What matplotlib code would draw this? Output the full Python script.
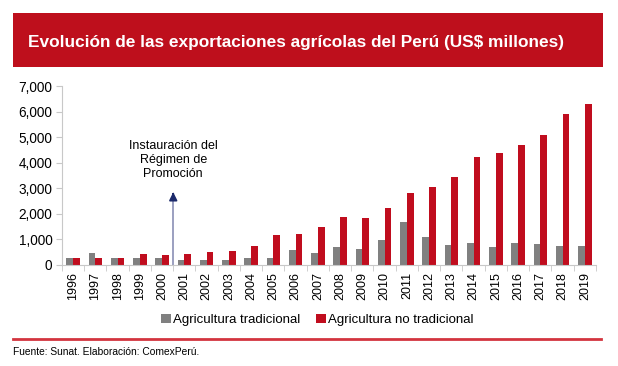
import matplotlib.pyplot as plt
import numpy as np
from matplotlib.patches import Rectangle
from matplotlib.lines import Line2D

plt.rcParams['font.family'] = ['Liberation Sans', 'DejaVu Sans']

years = [str(y) for y in range(1996, 2020)]
tradicional = [250, 470, 250, 250, 250, 185, 185, 185, 250, 250, 560, 450,
               680, 615, 955, 1660, 1085, 770, 835, 680, 835, 800, 745, 745]
no_tradicional = [250, 250, 250, 420, 370, 420, 495, 535, 745, 1150, 1200, 1490,
                  1880, 1815, 2210, 2810, 3055, 3420, 4220, 4375, 4675, 5080, 5890, 6295]

title = 'Evolución de las exportaciones agrícolas del Perú (US$ millones)'
fuente = 'Fuente: Sunat. Elaboración: ComexPerú.'
nota = 'Instauración del\nRégimen de\nPromoción'

grey = '#808080'
red = '#c00d1e'

fig = plt.figure(figsize=(6.18, 3.66), dpi=100)
ax = fig.add_axes([0.1003, 0.2768, 0.8641, 0.4882])

x = np.arange(len(years))
w = 0.3
ax.bar(x - w / 2, tradicional, w, color=grey, label='Agricultura tradicional')
ax.bar(x + w / 2, no_tradicional, w, color=red, label='Agricultura no tradicional')

ax.set_xlim(-0.5, len(years) - 0.5)
ax.set_ylim(0, 7000)
ax.set_yticks(range(0, 7001, 1000))
ax.set_yticklabels([f'{v:,}' for v in range(0, 7001, 1000)], fontsize=9.8)
ax.set_xticks(x)
ax.set_xticklabels(years, rotation=90, fontsize=9)
ax.tick_params(axis='x', length=0, pad=5)
ax.set_xticks(np.arange(-0.5, len(years)), minor=True)
ax.tick_params(axis='x', which='minor', length=4, color='#c8c8c8')
ax.tick_params(axis='y', length=4, color='#c8c8c8', pad=3)
for s in ['top', 'right']:
    ax.spines[s].set_visible(False)
for s in ['left', 'bottom']:
    ax.spines[s].set_color('#c8c8c8')

# flecha del régimen de promoción
ax.plot([4.5, 4.5], [0, 2700], color='#8a8fb5', lw=1.2)
ax.annotate('', xy=(4.5, 2950), xytext=(4.5, 2650),
            arrowprops=dict(arrowstyle='-|>', color='#1c2a6b', lw=1.2, mutation_scale=12))
ax.text(4.5, 3330, nota, ha='center', va='bottom', fontsize=9, linespacing=1.2)

leg = fig.legend(loc='center', bbox_to_anchor=(0.514, 0.126), ncol=2, frameon=False,
                 fontsize=9.5, handlelength=0.7, handleheight=0.7, handletextpad=0.2,
                 columnspacing=1.2)

# barra del título
fig.patches.append(Rectangle((0.021, 0.817), 0.9547, 0.1475, transform=fig.transFigure,
                             facecolor='#be0f1c', edgecolor='none'))
fig.text(0.046, 0.885, title, color='white', fontsize=12.4, fontweight='bold', va='center')

fig.lines.append(Line2D([0.021, 0.9725], [0.0738, 0.0738], transform=fig.transFigure,
                        color='#d3343f', lw=2))
fig.text(0.021, 0.038, fuente, fontsize=7.4, va='center')

fig.savefig('out.png', dpi=100)
